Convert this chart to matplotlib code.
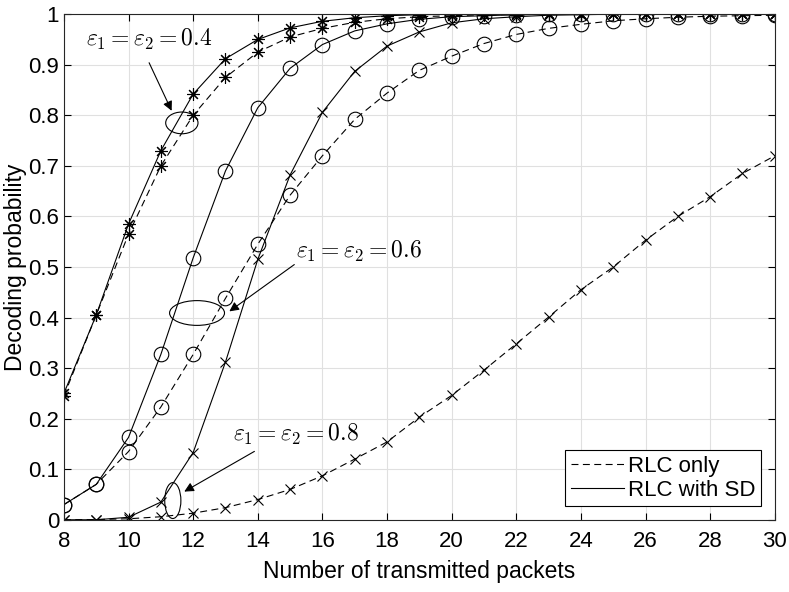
import numpy as np
import matplotlib
matplotlib.use("Agg")
import matplotlib.pyplot as plt
from matplotlib.patches import Ellipse

# data
packets = list(range(8, 31))

sd_04 = [0.25, 0.405, 0.585, 0.73, 0.842, 0.912, 0.95, 0.973, 0.986, 0.993, 0.997, 0.999,
         1.0, 1.0, 1.0, 1.0, 1.0, 1.0, 1.0, 1.0, 1.0, 1.0, 1.0]
rlc_04 = [0.245, 0.405, 0.565, 0.70, 0.80, 0.875, 0.925, 0.955, 0.972, 0.984, 0.991, 0.995,
          0.997, 0.999, 0.999, 1.0, 1.0, 1.0, 1.0, 1.0, 1.0, 1.0, 1.0]
sd_06 = [0.03, 0.07, 0.163, 0.327, 0.518, 0.69, 0.815, 0.893, 0.94, 0.967, 0.981, 0.99,
         0.995, 0.997, 0.999, 1.0, 1.0, 1.0, 1.0, 1.0, 1.0, 1.0, 1.0]
rlc_06 = [0.03, 0.07, 0.135, 0.223, 0.327, 0.438, 0.545, 0.642, 0.72, 0.792, 0.844, 0.889,
          0.917, 0.942, 0.96, 0.972, 0.98, 0.987, 0.991, 0.994, 0.996, 0.997, 0.998]
sd_08 = [0.0, 0.0, 0.005, 0.035, 0.133, 0.312, 0.515, 0.682, 0.806, 0.887, 0.937, 0.965,
         0.983, 0.991, 0.995, 0.998, 0.999, 1.0, 1.0, 1.0, 1.0, 1.0, 1.0]
rlc_08 = [0.0, 0.0005, 0.002, 0.006, 0.013, 0.024, 0.04, 0.06, 0.087, 0.12, 0.154, 0.203,
          0.246, 0.296, 0.348, 0.401, 0.455, 0.5, 0.553, 0.6, 0.639, 0.685, 0.72]

xticks = list(range(8, 31, 2))
yticks = [0, 0.1, 0.2, 0.3, 0.4, 0.5, 0.6, 0.7, 0.8, 0.9, 1]
ytick_labels = ['0', '0.1', '0.2', '0.3', '0.4', '0.5', '0.6', '0.7', '0.8', '0.9', '1']

plt.rcParams['font.family'] = ['Liberation Sans', 'DejaVu Sans']
plt.rcParams['mathtext.fontset'] = 'cm'
plt.rcParams['lines.scale_dashes'] = False

fig = plt.figure(figsize=(7.89, 5.92), dpi=100)
ax = fig.add_axes([0.081, 0.122, 0.901, 0.854])

lw = 0.8
dash = (5, 3.2)
star = (8, 2, 0)
ax.plot(packets, rlc_04, 'k--', lw=lw, dashes=dash, marker=star, ms=9, mew=0.8)
ax.plot(packets, sd_04, 'k-', lw=lw, marker=star, ms=9, mew=0.8)
ax.plot(packets, rlc_06, 'k--', lw=lw, dashes=dash, marker='o', ms=10.5, mfc='none', mew=0.8)
ax.plot(packets, sd_06, 'k-', lw=lw, marker='o', ms=10.5, mfc='none', mew=0.8)
ax.plot(packets, rlc_08, 'k--', lw=lw, dashes=dash, marker='x', ms=7, mew=0.8)
ax.plot(packets, sd_08, 'k-', lw=lw, marker='x', ms=7, mew=0.8)

# legend proxies
h1, = ax.plot([], [], 'k--', lw=lw, dashes=dash)
h2, = ax.plot([], [], 'k-', lw=lw)
leg = ax.legend([h1, h2], ['RLC only', 'RLC with SD'], loc='lower right',
                fontsize=16, fancybox=False, framealpha=1, edgecolor='k',
                borderaxespad=0.6, handlelength=2.4, handletextpad=0.2,
                borderpad=0.25, labelspacing=0.15)
leg.get_frame().set_linewidth(0.8)

# annotations
ax.add_patch(Ellipse((11.65, 0.785), 1.0, 0.043, fill=False, ec='k', lw=0.8))
ax.add_patch(Ellipse((12.12, 0.409), 1.7, 0.049, fill=False, ec='k', lw=0.8))
ax.add_patch(Ellipse((11.37, 0.038), 0.5, 0.071, fill=False, ec='k', lw=0.8))

arrow = dict(arrowstyle='-|>', color='k', lw=0.8, mutation_scale=14)
ax.annotate('', xy=(11.37, 0.804), xytext=(10.6, 0.909), arrowprops=arrow)
ax.annotate('', xy=(13.05, 0.409), xytext=(15.2, 0.508), arrowprops=arrow)
ax.annotate('', xy=(11.65, 0.053), xytext=(13.97, 0.138), arrowprops=arrow)

ax.text(10.63, 0.949, r'$\varepsilon_1 = \varepsilon_2 = 0.4$', fontsize=17,
        ha='center', va='center')
ax.text(17.13, 0.53, r'$\varepsilon_1 = \varepsilon_2 = 0.6$', fontsize=17,
        ha='center', va='center')
ax.text(15.18, 0.168, r'$\varepsilon_1 = \varepsilon_2 = 0.8$', fontsize=17,
        ha='center', va='center')

ax.set_xlim(8, 30)
ax.set_ylim(0, 1)
ax.set_xticks(xticks)
ax.set_yticks(yticks)
ax.set_yticklabels(ytick_labels)
ax.tick_params(direction='in', labelsize=16, length=5, top=True, right=True, width=0.8)
ax.tick_params(axis='x', pad=8)
ax.grid(True, color='#e0e0e0', lw=0.8)
ax.set_axisbelow(True)
for s in ax.spines.values():
    s.set_linewidth(0.8)
    s.set_color('#262626')

ax.set_xlabel('Number of transmitted packets', fontsize=16.5, labelpad=6)
ax.set_ylabel('Decoding probability', fontsize=16.5, labelpad=1)

fig.savefig('out.png', dpi=100)
